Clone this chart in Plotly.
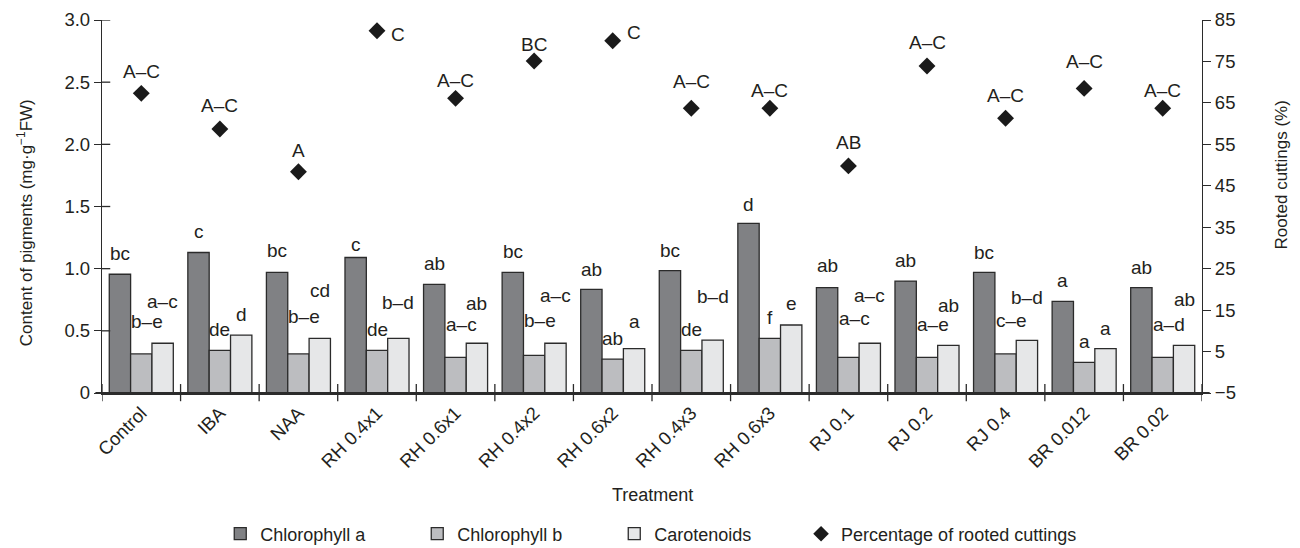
import plotly.graph_objects as go

treatments = ["Control", "IBA", "NAA", "RH 0.4x1", "RH 0.6x1", "RH 0.4x2", "RH 0.6x2",
              "RH 0.4x3", "RH 0.6x3", "RJ 0.1", "RJ 0.2", "RJ 0.4", "BR 0.012", "BR 0.02"]

chl_a = [0.955, 1.13, 0.97, 1.09, 0.874, 0.97, 0.834, 0.984, 1.365, 0.847, 0.90, 0.97, 0.737, 0.847]
chl_b = [0.314, 0.343, 0.314, 0.343, 0.287, 0.303, 0.273, 0.343, 0.44, 0.287, 0.287, 0.314, 0.247, 0.287]
carot = [0.40, 0.466, 0.44, 0.44, 0.40, 0.40, 0.357, 0.426, 0.547, 0.40, 0.383, 0.424, 0.357, 0.383]
rooted = [67.3, 58.7, 48.4, 82.4, 66.1, 75.1, 80.0, 63.7, 63.7, 49.8, 73.9, 61.3, 68.5, 63.7]

chl_a_letters = ["bc", "c", "bc", "c", "ab", "bc", "ab", "bc", "d", "ab", "ab", "bc", "a", "ab"]
chl_b_letters = ["b\u2013e", "de", "b\u2013e", "de", "a\u2013c", "b\u2013e", "ab", "de", "f", "a\u2013c", "a\u2013e", "c\u2013e", "a", "a\u2013d"]
carot_letters = ["a\u2013c", "d", "cd", "b\u2013d", "ab", "a\u2013c", "a", "b\u2013d", "e", "a\u2013c", "ab", "b\u2013d", "a", "ab"]
rooted_letters = ["A\u2013C", "A\u2013C", "A", "C", "A\u2013C", "BC", "C", "A\u2013C", "A\u2013C", "AB", "A\u2013C", "A\u2013C", "A\u2013C", "A\u2013C"]

# heights (in axis units) at which the significance letters sit
chl_a_letter_y = [1.124, 1.297, 1.150, 1.198, 1.038, 1.137, 0.997, 1.150, 1.520, 1.024, 1.064, 1.132, 0.901, 1.011]
chl_b_letter_y = [0.573, 0.507, 0.619, 0.507, 0.547, 0.587, 0.440, 0.507, 0.609, 0.601, 0.547, 0.587, 0.413, 0.547]
carot_letter_y = [0.734, 0.635, 0.823, 0.729, 0.716, 0.783, 0.573, 0.775, 0.716, 0.783, 0.700, 0.770, 0.520, 0.754]
rooted_letter_y = [72.5, 64.3, 53.6, 81.6, 70.5, 79.1, 82.0, 70.1, 68.1, 55.4, 79.5, 66.7, 74.9, 68.1]

left_ticks = [0, 0.5, 1.0, 1.5, 2.0, 2.5, 3.0]
left_ticktext = ["0", "0.5", "1.0", "1.5", "2.0", "2.5", "3.0"]
right_ticks = [-5, 5, 15, 25, 35, 45, 55, 65, 75, 85]

FONT = "Liberation Sans, Arial, Helvetica, sans-serif"
TXT = "#231f20"
LINE = "#2b2b2b"
idx = list(range(len(treatments)))
bargap = 0.185
bw = (1 - bargap) / 3

fig = go.Figure()
series = [("Chlorophyll a", chl_a, "#808184"),
          ("Chlorophyll b", chl_b, "#bcbdc0"),
          ("Carotenoids", carot, "#e6e7e8")]
for name, vals, col in series:
    fig.add_trace(go.Bar(x=idx, y=vals, name=name, marker=dict(color=col, line=dict(color=LINE, width=1.3)),
                         yaxis="y", legend="legend"))

fig.add_trace(go.Scatter(x=idx, y=rooted, name="Percentage of rooted cuttings", mode="markers",
                         marker=dict(symbol="diamond", size=13, color="#1a1a1a"), yaxis="y2",
                         legend="legend2"))

ann = []
for k, (letters, ly) in enumerate([(chl_a_letters, chl_a_letter_y), (chl_b_letters, chl_b_letter_y),
                                   (carot_letters, carot_letter_y)]):
    off = (k - 1) * bw
    for i, (t, yv) in enumerate(zip(letters, ly)):
        xs = 6 if (k == 1 and "\u2013" in t) else 0
        ann.append(dict(x=i + off, y=yv, xref="x", yref="y", text=t, showarrow=False,
                        xshift=xs, font=dict(size=19, color=TXT, family=FONT)))
for i, (t, yv) in enumerate(zip(rooted_letters, rooted_letter_y)):
    xs = 21 if t == "C" else 0
    ann.append(dict(x=i, y=yv, xref="x", yref="y2", text=t, showarrow=False, xshift=xs,
                    font=dict(size=19, color=TXT, family=FONT)))

ann.append(dict(x=-0.07, y=0.458, xref="paper", yref="paper", xanchor="center", yanchor="middle",
                text="Content of pigments (mg\u00b7g<sup>\u22121</sup>FW)",
                textangle=-90, showarrow=False, font=dict(size=17, color=TXT, family=FONT)))
ann.append(dict(x=1.0718, y=0.586, xref="paper", yref="paper", xanchor="center", yanchor="middle",
                text="Rooted cuttings (%)",
                textangle=-90, showarrow=False, font=dict(size=17, color=TXT, family=FONT)))
ann.append(dict(x=0.5, y=-0.273, xref="paper", yref="paper", xanchor="center", yanchor="middle",
                text="Treatment", showarrow=False, font=dict(size=18, color=TXT, family=FONT)))

shapes = []
# crossing ticks on the left axis (inside half)
for v in left_ticks:
    shapes.append(dict(type="line", xref="paper", yref="y", x0=0, x1=0.0075, y0=v, y1=v,
                       line=dict(color=LINE, width=1.3)))
# category separator ticks crossing the baseline
for b in range(len(treatments) + 1):
    shapes.append(dict(type="line", xref="x", yref="paper", x0=b - 0.5, x1=b - 0.5, y0=-0.022, y1=0.024,
                       line=dict(color=LINE, width=1.3)))
# baseline extension
shapes.append(dict(type="line", xref="paper", yref="y", x0=-0.006, x1=1.007, y0=0, y1=0,
                   line=dict(color=LINE, width=2)))

fig.update_layout(
    width=1300, height=548,
    margin=dict(l=102, r=98, t=20, b=155, autoexpand=False),
    paper_bgcolor="white", plot_bgcolor="white",
    barmode="group", bargap=bargap, bargroupgap=0,
    font=dict(family=FONT, size=18, color=TXT),
    showlegend=True,
    legend=dict(orientation="h", x=0.1075, y=-0.378, xanchor="left", yanchor="middle",
                entrywidth=152, entrywidthmode="pixels",
                font=dict(size=18, color=TXT, family=FONT), traceorder="normal"),
    legend2=dict(orientation="h", x=0.6355, y=-0.378, xanchor="left", yanchor="middle",
                 itemsizing="constant", font=dict(size=18, color=TXT, family=FONT)),
    xaxis=dict(range=[-0.5, len(treatments) - 0.5], tickvals=idx, ticktext=treatments, tickangle=-45,
               ticks="", showline=True, linecolor=LINE, linewidth=2, showgrid=False, zeroline=False,
               automargin=False, tickfont=dict(size=18.5, color=TXT, family=FONT), fixedrange=True),
    yaxis=dict(range=[0, 3.0], tickvals=left_ticks, ticktext=left_ticktext, ticks="outside", ticklen=7,
               tickwidth=1.3, tickcolor=LINE, showline=True, linecolor=LINE, linewidth=1.3, automargin=False,
               showgrid=False, zeroline=False, tickfont=dict(size=18.5, color=TXT, family=FONT)),
    yaxis2=dict(range=[-5, 85], tickvals=right_ticks, overlaying="y", side="right", ticks="outside",
                ticklen=8, tickwidth=1.3, tickcolor=LINE, showline=True, linecolor=LINE, linewidth=1.3,
                automargin=False, showgrid=False, zeroline=False,
                tickfont=dict(size=18.5, color=TXT, family=FONT)),
    annotations=ann, shapes=shapes,
)

fig.write_html("out.html", config={"displayModeBar": False},
               post_script="document.body.style.margin='0';document.body.style.overflow='hidden';")
